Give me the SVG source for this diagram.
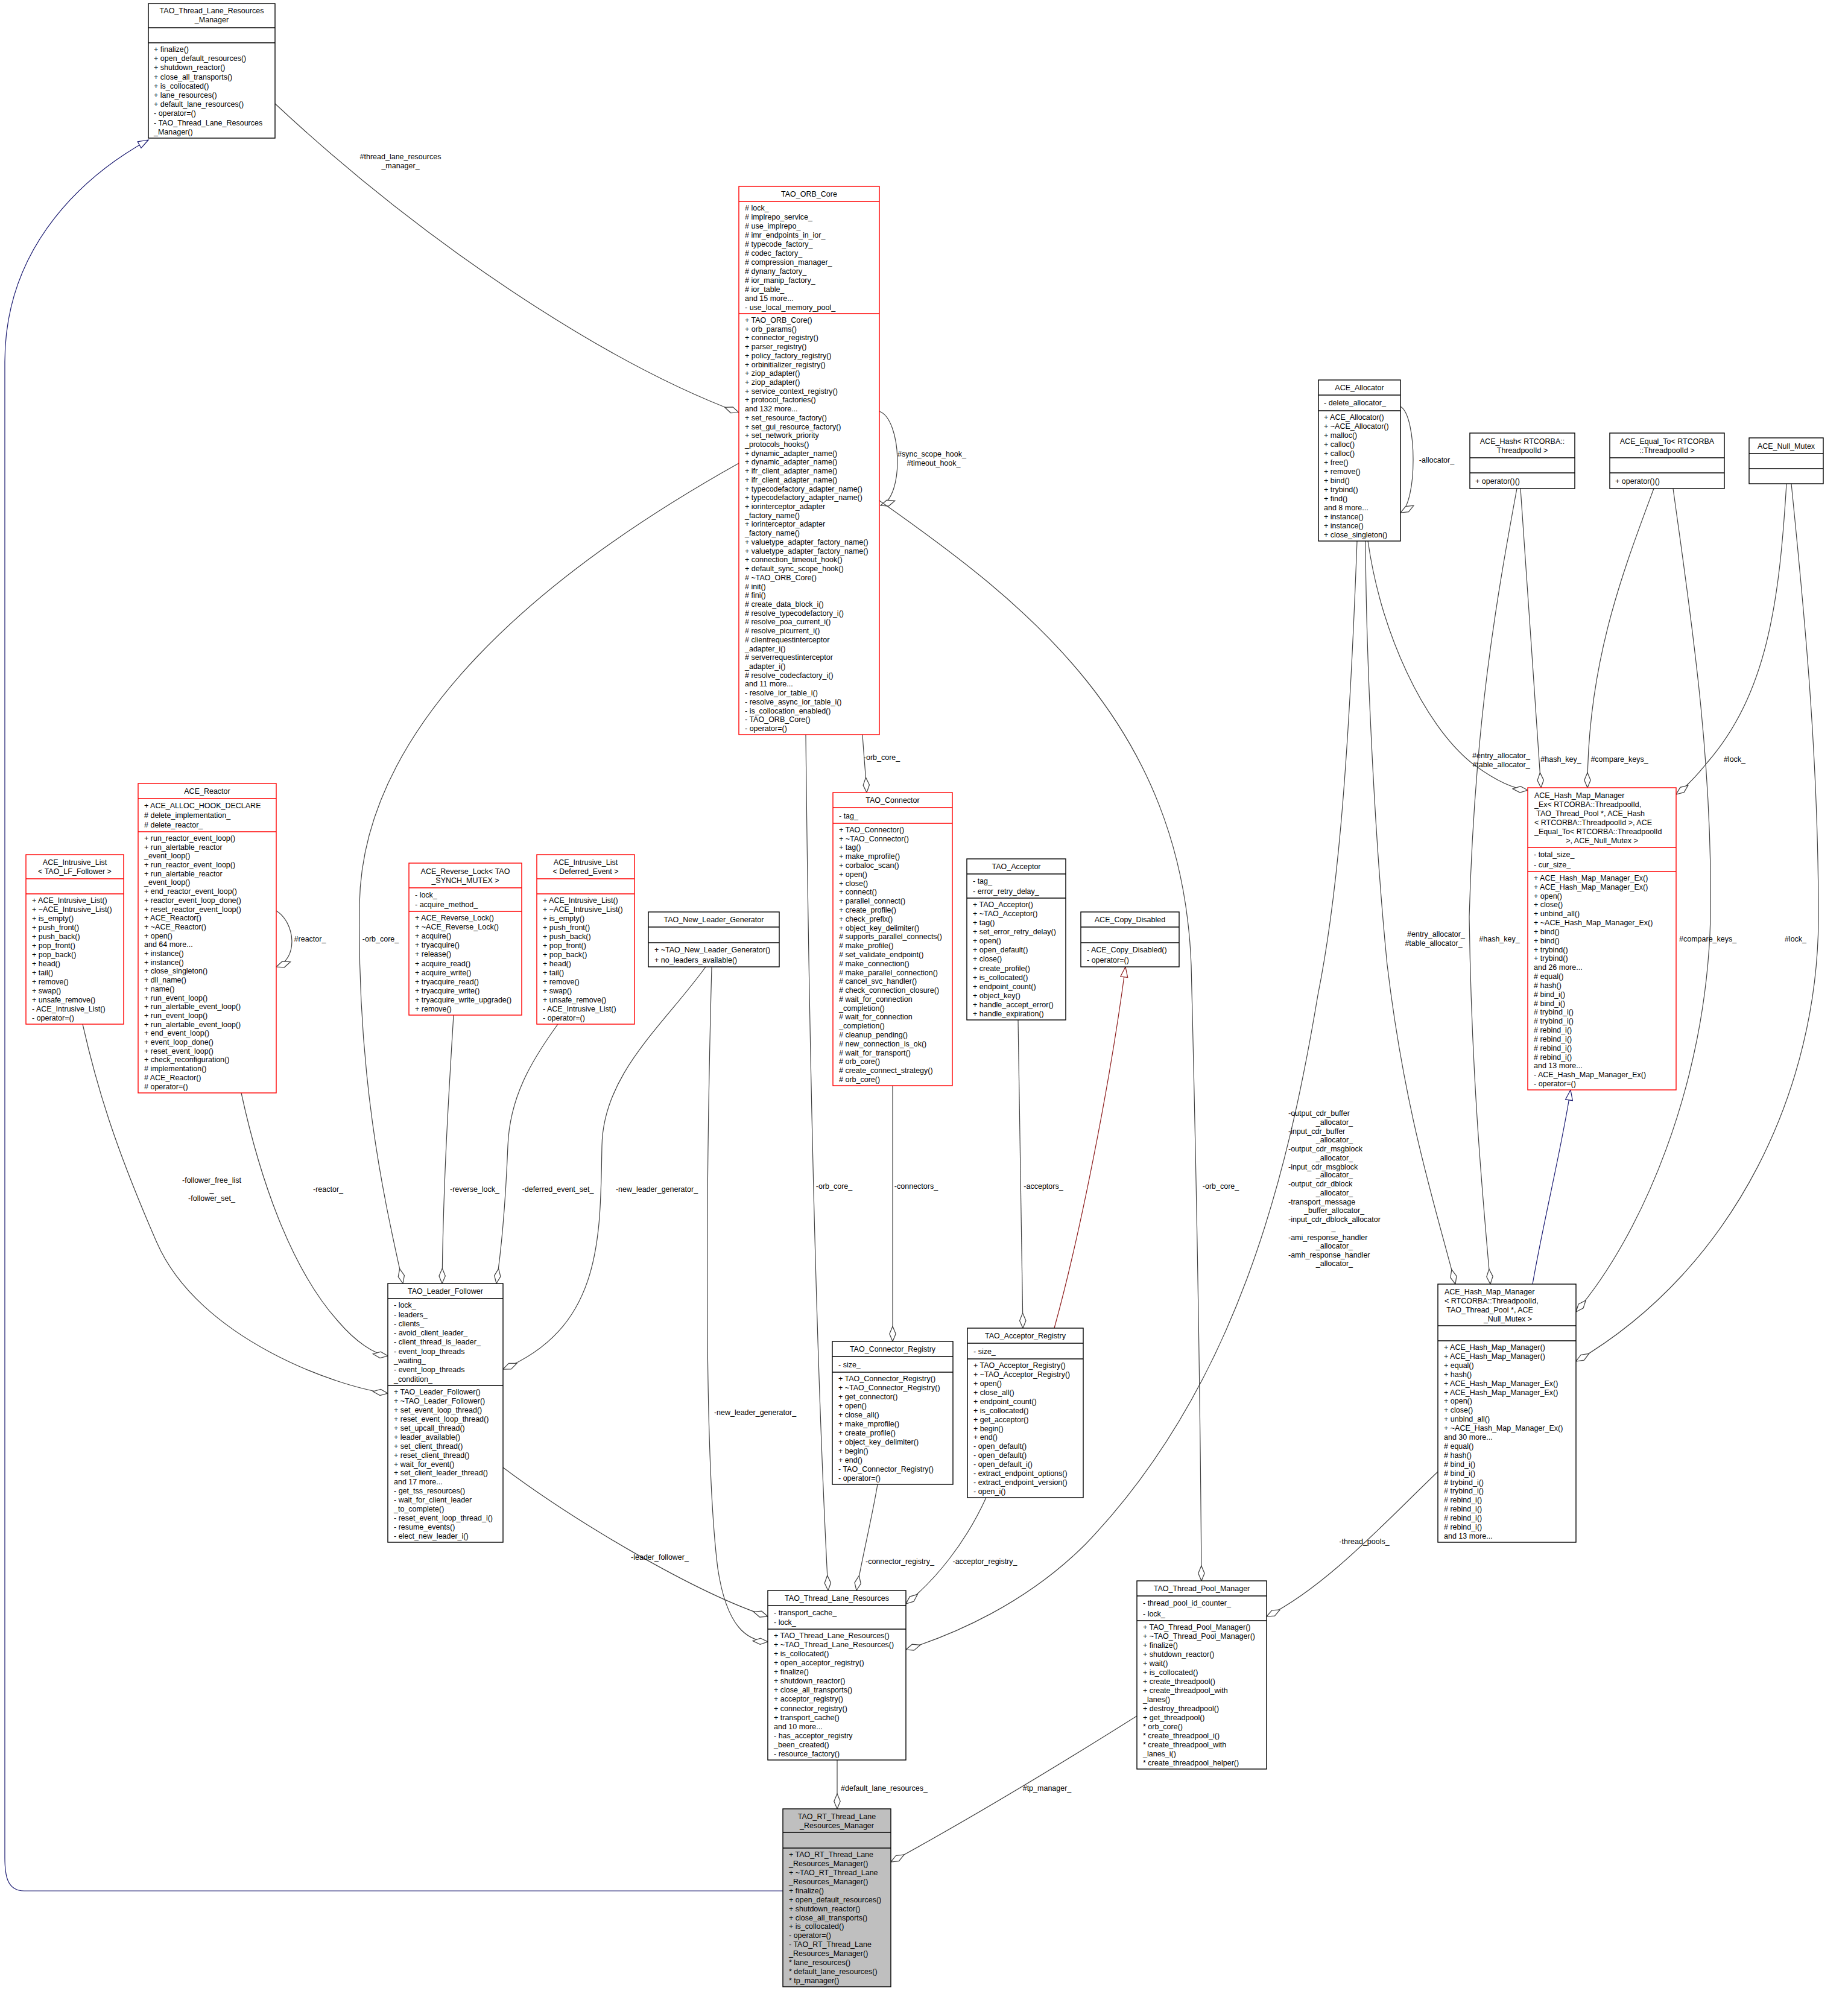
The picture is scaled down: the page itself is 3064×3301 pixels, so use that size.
<svg xmlns="http://www.w3.org/2000/svg" width="3064" height="3301" viewBox="0 0 3064 3301">
<style>
text{font-family:"Liberation Sans",Arial,sans-serif;font-size:12.5px;fill:#000}
.c{text-anchor:middle}
.e{text-anchor:end}
.b{fill:#fff;stroke:#000;stroke-width:1.4}
.r{fill:#fff;stroke:#ff0000;stroke-width:1.4}
.g{fill:#bfbfbf;stroke:#000;stroke-width:1.4}
.l{stroke:#000;stroke-width:1.4}
.lr{stroke:#ff0000;stroke-width:1.4}
.ed{fill:none;stroke:#404040;stroke-width:1.2}
.inh{fill:none;stroke:#191970;stroke-width:1.2}
.inr{fill:none;stroke:#8b1a1a;stroke-width:1.2}
</style>
<defs>
<marker id="dia" markerUnits="userSpaceOnUse" markerWidth="27" markerHeight="13" viewBox="-1 -6 26 12" refX="24" refY="0" orient="auto"><path d="M0,0 L12,-5 L24,0 L12,5 z" fill="#fff" stroke="#404040" stroke-width="1.2"/></marker>
<marker id="tri" markerUnits="userSpaceOnUse" markerWidth="20" markerHeight="14" viewBox="-1 -7 20 14" refX="17" refY="0" orient="auto"><path d="M0,-6 L17,0 L0,6 z" fill="#fff" stroke="#191970" stroke-width="1.2"/></marker>
<marker id="trir" markerUnits="userSpaceOnUse" markerWidth="20" markerHeight="14" viewBox="-1 -7 20 14" refX="17" refY="0" orient="auto"><path d="M0,-6 L17,0 L0,6 z" fill="#fff" stroke="#8b1a1a" stroke-width="1.2"/></marker>
</defs>

<g id="edges">
<path class="inh" marker-end="url(#tri)" d="M1298,3135 L40,3135 C12,3135 8,3110 8,3080 L8,600 C8,400 150,285 246,232"/>
<path class="ed" marker-end="url(#dia)" d="M454,170 C700,400 1000,600 1225,684"/>
<text class="c" x="664" y="264">#thread_lane_resources</text><text class="c" x="664" y="279">_manager_</text>
<path class="ed" marker-end="url(#dia)" d="M1458,682 C1495,695 1500,825 1460,838"/>
<text class="c" x="1545" y="757">#sync_scope_hook_</text><text class="c" x="1548" y="772">#timeout_hook_</text>
<path class="ed" marker-end="url(#dia)" d="M1225,768 C900,950 600,1200 596,1500 C592,1800 640,2000 668,2128"/>
<text class="c" x="631" y="1561">-orb_core_</text>
<path class="ed" marker-end="url(#dia)" d="M458,1510 C490,1530 495,1590 458,1603"/>
<text class="c" x="514" y="1561">#reactor_</text>
<path class="ed" marker-end="url(#dia)" d="M137,1698 C160,1800 190,1900 260,2060 C330,2220 560,2300 643,2310"/>
<text class="c" x="351" y="1961">-follower_free_list</text><text class="c" x="351" y="1976">_</text><text class="c" x="351" y="1991">-follower_set_</text>
<path class="ed" marker-end="url(#dia)" d="M400,1812 C430,1950 480,2100 560,2190 C590,2225 620,2245 643,2248"/>
<text class="c" x="544" y="1976">-reactor_</text>
<path class="ed" marker-end="url(#dia)" d="M752,1683 C745,1800 735,1950 733,2128"/>
<text class="c" x="787" y="1976">-reverse_lock_</text>
<path class="ed" marker-end="url(#dia)" d="M925,1698 C880,1760 845,1820 842,1900 C838,2000 830,2080 823,2128"/>
<text class="c" x="925" y="1976">-deferred_event_set_</text>
<path class="ed" marker-end="url(#dia)" d="M1170,1603 C1100,1700 1000,1780 998,1900 C995,2050 1000,2200 834,2270"/>
<text class="c" x="1089" y="1976">-new_leader_generator_</text>
<path class="ed" marker-end="url(#dia)" d="M1336,1218 C1340,1600 1350,2200 1373,2637"/>
<text class="c" x="1383" y="1971">-orb_core_</text>
<path class="ed" marker-end="url(#dia)" d="M1180,1603 C1172,1900 1165,2400 1190,2600 C1205,2700 1240,2720 1273,2722"/>
<text class="c" x="1252" y="2346">-new_leader_generator_</text>
<path class="ed" marker-end="url(#dia)" d="M834,2433 C950,2520 1150,2640 1273,2680"/>
<text class="c" x="1094" y="2586">-leader_follower_</text>
<path class="ed" marker-end="url(#dia)" d="M1430,1218 C1432,1250 1435,1280 1437,1314"/>
<text class="c" x="1462" y="1260">-orb_core_</text>
<path class="ed" marker-end="url(#dia)" d="M1480,1800 L1480,2224"/>
<text class="c" x="1519" y="1971">-connectors_</text>
<path class="ed" marker-end="url(#dia)" d="M1688,1691 C1690,1900 1694,2100 1696,2202"/>
<text class="c" x="1730" y="1971">-acceptors_</text>
<path class="inr" marker-end="url(#trir)" d="M1748,2202 C1790,2050 1840,1800 1866,1603"/>
<path class="ed" marker-end="url(#dia)" d="M1455,2461 C1445,2520 1430,2580 1420,2637"/>
<text class="c" x="1492" y="2593">-connector_registry_</text>
<path class="ed" marker-end="url(#dia)" d="M1635,2483 C1600,2560 1550,2620 1502,2659"/>
<text class="c" x="1633" y="2593">-acceptor_registry_</text>
<path class="ed" marker-end="url(#dia)" d="M2250,897 C2235,1300 2215,1500 2185,1650 C2135,1950 2050,2300 1800,2560 C1700,2660 1580,2710 1502,2735"/>
<text x="2136" y="1850">-output_cdr_buffer</text><text class="e" x="2243" y="1865">_allocator_</text>
<text x="2136" y="1880">-input_cdr_buffer</text><text class="e" x="2243" y="1894">_allocator_</text>
<text x="2136" y="1909">-output_cdr_msgblock</text><text class="e" x="2243" y="1924">_allocator_</text>
<text x="2136" y="1939">-input_cdr_msgblock</text><text class="e" x="2243" y="1952">_allocator_</text>
<text x="2136" y="1967">-output_cdr_dblock</text><text class="e" x="2243" y="1982">_allocator_</text>
<text x="2136" y="1997">-transport_message</text><text class="e" x="2262" y="2011">_buffer_allocator_</text>
<text x="2136" y="2026">-input_cdr_dblock_allocator</text><text class="c" x="2211" y="2040">_</text>
<text x="2136" y="2056">-ami_response_handler</text><text class="e" x="2243" y="2070">_allocator_</text>
<text x="2136" y="2085">-amh_response_handler</text><text class="e" x="2243" y="2099">_allocator_</text>
<path class="ed" marker-end="url(#dia)" d="M2322,674 C2350,690 2350,835 2322,850"/>
<text class="c" x="2382" y="767">-allocator_</text>
<path class="ed" marker-end="url(#dia)" d="M2268,897 C2290,1050 2360,1200 2440,1265 C2480,1295 2510,1308 2533,1310"/>
<text class="c" x="2489" y="1257">#entry_allocator_</text><text class="c" x="2489" y="1272">#table_allocator_</text>
<path class="ed" marker-end="url(#dia)" d="M2521,810 C2530,950 2545,1150 2555,1306"/>
<text class="c" x="2588" y="1263">#hash_key_</text>
<path class="ed" marker-end="url(#dia)" d="M2742,810 C2690,950 2632,1100 2632,1306"/>
<text class="c" x="2685" y="1263">#compare_keys_</text>
<path class="ed" marker-end="url(#dia)" d="M2962,802 C2950,1000 2930,1150 2830,1265 C2810,1290 2795,1305 2779,1317"/>
<text class="c" x="2876" y="1263">#lock_</text>
<path class="ed" marker-end="url(#dia)" d="M2264,897 C2265,1100 2280,1400 2300,1600 C2330,1850 2380,2000 2413,2129"/>
<text class="c" x="2381" y="1553">#entry_allocator_</text><text class="c" x="2377" y="1568">#table_allocator_</text>
<path class="ed" marker-end="url(#dia)" d="M2515,810 C2480,1000 2445,1200 2436,1520 C2440,1800 2460,2000 2471,2129"/>
<text class="c" x="2486" y="1561">#hash_key_</text>
<path class="ed" marker-end="url(#dia)" d="M2774,810 C2800,1000 2840,1250 2836,1520 C2830,1800 2720,2050 2613,2175"/>
<text x="2784" y="1561">#compare_keys_</text>
<path class="ed" marker-end="url(#dia)" d="M2970,802 C2990,1000 3015,1250 3015,1520 C3015,1800 2880,2100 2613,2257"/>
<text class="c" x="2977" y="1561">#lock_</text>
<path class="inh" marker-end="url(#tri)" d="M2541,2129 C2560,2020 2590,1900 2604,1807"/>
<path class="ed" marker-end="url(#dia)" d="M2384,2440 C2300,2520 2200,2630 2100,2680"/>
<text class="c" x="2262" y="2560">-thread_pools_</text>
<path class="ed" marker-end="url(#dia)" d="M1458,830 C1700,1000 1960,1200 1975,1600 C1985,2000 1990,2300 1992,2621"/>
<text class="c" x="2024" y="1971">-orb_core_</text>
<path class="ed" marker-end="url(#dia)" d="M1885,2845 C1750,2930 1600,3020 1477,3087"/>
<text class="c" x="1736" y="2969">#tp_manager_</text>
<path class="ed" marker-end="url(#dia)" d="M1388,2918 L1388,2999"/>
<text class="c" x="1466" y="2969">#default_lane_resources_</text>
</g>

<g id="TAO_Thread_Lane_Resources_Manager">
<rect class="b" x="246" y="6" width="210" height="223"/><line class="l" x1="246" y1="46" x2="456" y2="46"/><line class="l" x1="246" y1="71" x2="456" y2="71"/>
<text class="c" x="351" y="22">TAO_Thread_Lane_Resources<tspan x="351" dy="15">_Manager</tspan></text>
<text x="255" y="86">+ finalize()<tspan x="255" dy="15.2">+ open_default_resources()</tspan><tspan x="255" dy="15.2">+ shutdown_reactor()</tspan><tspan x="255" dy="15.2">+ close_all_transports()</tspan><tspan x="255" dy="15.2">+ is_collocated()</tspan><tspan x="255" dy="15.2">+ lane_resources()</tspan><tspan x="255" dy="15.2">+ default_lane_resources()</tspan><tspan x="255" dy="15.2">- operator=()</tspan><tspan x="255" dy="15.2">- TAO_Thread_Lane_Resources</tspan><tspan x="255" dy="15.2">_Manager()</tspan></text>
</g>

<g id="TAO_ORB_Core">
<rect class="r" x="1225" y="309" width="233" height="909"/><line class="lr" x1="1225" y1="334" x2="1458" y2="334"/><line class="lr" x1="1225" y1="520" x2="1458" y2="520"/>
<text class="c" x="1341.5" y="326">TAO_ORB_Core</text>
<text x="1235" y="349"># lock_<tspan x="1235" dy="15"># implrepo_service_</tspan><tspan x="1235" dy="15"># use_implrepo_</tspan><tspan x="1235" dy="15"># imr_endpoints_in_ior_</tspan><tspan x="1235" dy="15"># typecode_factory_</tspan><tspan x="1235" dy="15"># codec_factory_</tspan><tspan x="1235" dy="15"># compression_manager_</tspan><tspan x="1235" dy="15"># dynany_factory_</tspan><tspan x="1235" dy="15"># ior_manip_factory_</tspan><tspan x="1235" dy="15"># ior_table_</tspan><tspan x="1235" dy="15">and 15 more...</tspan><tspan x="1235" dy="15">- use_local_memory_pool_</tspan></text>
<text x="1235" y="534.9">+ TAO_ORB_Core()<tspan x="1235" dy="14.72">+ orb_params()</tspan><tspan x="1235" dy="14.72">+ connector_registry()</tspan><tspan x="1235" dy="14.72">+ parser_registry()</tspan><tspan x="1235" dy="14.72">+ policy_factory_registry()</tspan><tspan x="1235" dy="14.72">+ orbinitializer_registry()</tspan><tspan x="1235" dy="14.72">+ ziop_adapter()</tspan><tspan x="1235" dy="14.72">+ ziop_adapter()</tspan><tspan x="1235" dy="14.72">+ service_context_registry()</tspan><tspan x="1235" dy="14.72">+ protocol_factories()</tspan><tspan x="1235" dy="14.72">and 132 more...</tspan><tspan x="1235" dy="14.72">+ set_resource_factory()</tspan><tspan x="1235" dy="14.72">+ set_gui_resource_factory()</tspan><tspan x="1235" dy="14.72">+ set_network_priority</tspan><tspan x="1235" dy="14.72">_protocols_hooks()</tspan><tspan x="1235" dy="14.72">+ dynamic_adapter_name()</tspan><tspan x="1235" dy="14.72">+ dynamic_adapter_name()</tspan><tspan x="1235" dy="14.72">+ ifr_client_adapter_name()</tspan><tspan x="1235" dy="14.72">+ ifr_client_adapter_name()</tspan><tspan x="1235" dy="14.72">+ typecodefactory_adapter_name()</tspan><tspan x="1235" dy="14.72">+ typecodefactory_adapter_name()</tspan><tspan x="1235" dy="14.72">+ iorinterceptor_adapter</tspan><tspan x="1235" dy="14.72">_factory_name()</tspan><tspan x="1235" dy="14.72">+ iorinterceptor_adapter</tspan><tspan x="1235" dy="14.72">_factory_name()</tspan><tspan x="1235" dy="14.72">+ valuetype_adapter_factory_name()</tspan><tspan x="1235" dy="14.72">+ valuetype_adapter_factory_name()</tspan><tspan x="1235" dy="14.72">+ connection_timeout_hook()</tspan><tspan x="1235" dy="14.72">+ default_sync_scope_hook()</tspan><tspan x="1235" dy="14.72"># ~TAO_ORB_Core()</tspan><tspan x="1235" dy="14.72"># init()</tspan><tspan x="1235" dy="14.72"># fini()</tspan><tspan x="1235" dy="14.72"># create_data_block_i()</tspan><tspan x="1235" dy="14.72"># resolve_typecodefactory_i()</tspan><tspan x="1235" dy="14.72"># resolve_poa_current_i()</tspan><tspan x="1235" dy="14.72"># resolve_picurrent_i()</tspan><tspan x="1235" dy="14.72"># clientrequestinterceptor</tspan><tspan x="1235" dy="14.72">_adapter_i()</tspan><tspan x="1235" dy="14.72"># serverrequestinterceptor</tspan><tspan x="1235" dy="14.72">_adapter_i()</tspan><tspan x="1235" dy="14.72"># resolve_codecfactory_i()</tspan><tspan x="1235" dy="14.72">and 11 more...</tspan><tspan x="1235" dy="14.72">- resolve_ior_table_i()</tspan><tspan x="1235" dy="14.72">- resolve_async_ior_table_i()</tspan><tspan x="1235" dy="14.72">- is_collocation_enabled()</tspan><tspan x="1235" dy="14.72">- TAO_ORB_Core()</tspan><tspan x="1235" dy="14.72">- operator=()</tspan></text>
</g>

<g id="ACE_Allocator">
<rect class="b" x="2186" y="630" width="136" height="267"/><line class="l" x1="2186" y1="655" x2="2322" y2="655"/><line class="l" x1="2186" y1="681" x2="2322" y2="681"/>
<text class="c" x="2254" y="647">ACE_Allocator</text>
<text x="2195" y="672">- delete_allocator_</text>
<text x="2195" y="696">+ ACE_Allocator()<tspan x="2195" dy="15">+ ~ACE_Allocator()</tspan><tspan x="2195" dy="15">+ malloc()</tspan><tspan x="2195" dy="15">+ calloc()</tspan><tspan x="2195" dy="15">+ calloc()</tspan><tspan x="2195" dy="15">+ free()</tspan><tspan x="2195" dy="15">+ remove()</tspan><tspan x="2195" dy="15">+ bind()</tspan><tspan x="2195" dy="15">+ trybind()</tspan><tspan x="2195" dy="15">+ find()</tspan><tspan x="2195" dy="15">and 8 more...</tspan><tspan x="2195" dy="15">+ instance()</tspan><tspan x="2195" dy="15">+ instance()</tspan><tspan x="2195" dy="15">+ close_singleton()</tspan></text>
</g>

<g id="ACE_Hash">
<rect class="b" x="2437" y="718" width="174" height="92"/><line class="l" x1="2437" y1="759" x2="2611" y2="759"/><line class="l" x1="2437" y1="784" x2="2611" y2="784"/>
<text class="c" x="2524" y="735.5">ACE_Hash&lt; RTCORBA::<tspan x="2524" dy="15">ThreadpoolId &gt;</tspan></text>
<text x="2446" y="801.5">+ operator()()</text>
</g>

<g id="ACE_Equal_To">
<rect class="b" x="2669" y="718" width="190" height="92"/><line class="l" x1="2669" y1="759" x2="2859" y2="759"/><line class="l" x1="2669" y1="784" x2="2859" y2="784"/>
<text class="c" x="2764" y="735.5">ACE_Equal_To&lt; RTCORBA<tspan x="2764" dy="15">::ThreadpoolId &gt;</tspan></text>
<text x="2678" y="801.5">+ operator()()</text>
</g>

<g id="ACE_Null_Mutex">
<rect class="b" x="2900" y="726" width="123" height="76"/><line class="l" x1="2900" y1="752" x2="3023" y2="752"/><line class="l" x1="2900" y1="777" x2="3023" y2="777"/>
<text class="c" x="2961.5" y="743.5">ACE_Null_Mutex</text>
</g>

<g id="ACE_Hash_Map_Manager_Ex">
<rect class="r" x="2533" y="1306" width="246" height="501"/><line class="lr" x1="2533" y1="1405" x2="2779" y2="1405"/><line class="lr" x1="2533" y1="1445" x2="2779" y2="1445"/>
<text x="2544" y="1322.5">ACE_Hash_Map_Manager<tspan x="2544" dy="15">_Ex&lt; RTCORBA::ThreadpoolId,</tspan><tspan x="2544" dy="15"> TAO_Thread_Pool *, ACE_Hash</tspan><tspan x="2544" dy="15">&lt; RTCORBA::ThreadpoolId &gt;, ACE</tspan><tspan x="2544" dy="15">_Equal_To&lt; RTCORBA::ThreadpoolId</tspan></text>
<text class="c" x="2656" y="1397.5">&gt;, ACE_Null_Mutex &gt;</text>
<text x="2543" y="1421">- total_size_<tspan x="2543" dy="17">- cur_size_</tspan></text>
<text x="2543" y="1459.9">+ ACE_Hash_Map_Manager_Ex()<tspan x="2543" dy="14.83">+ ACE_Hash_Map_Manager_Ex()</tspan><tspan x="2543" dy="14.83">+ open()</tspan><tspan x="2543" dy="14.83">+ close()</tspan><tspan x="2543" dy="14.83">+ unbind_all()</tspan><tspan x="2543" dy="14.83">+ ~ACE_Hash_Map_Manager_Ex()</tspan><tspan x="2543" dy="14.83">+ bind()</tspan><tspan x="2543" dy="14.83">+ bind()</tspan><tspan x="2543" dy="14.83">+ trybind()</tspan><tspan x="2543" dy="14.83">+ trybind()</tspan><tspan x="2543" dy="14.83">and 26 more...</tspan><tspan x="2543" dy="14.83"># equal()</tspan><tspan x="2543" dy="14.83"># hash()</tspan><tspan x="2543" dy="14.83"># bind_i()</tspan><tspan x="2543" dy="14.83"># bind_i()</tspan><tspan x="2543" dy="14.83"># trybind_i()</tspan><tspan x="2543" dy="14.83"># trybind_i()</tspan><tspan x="2543" dy="14.83"># rebind_i()</tspan><tspan x="2543" dy="14.83"># rebind_i()</tspan><tspan x="2543" dy="14.83"># rebind_i()</tspan><tspan x="2543" dy="14.83"># rebind_i()</tspan><tspan x="2543" dy="14.83">and 13 more...</tspan><tspan x="2543" dy="14.83">- ACE_Hash_Map_Manager_Ex()</tspan><tspan x="2543" dy="14.83">- operator=()</tspan></text>
</g>

<g id="ACE_Hash_Map_Manager">
<rect class="b" x="2384" y="2129" width="229" height="428"/><line class="l" x1="2384" y1="2198" x2="2613" y2="2198"/><line class="l" x1="2384" y1="2223" x2="2613" y2="2223"/>
<text x="2395" y="2145.5">ACE_Hash_Map_Manager<tspan x="2395" dy="15">&lt; RTCORBA::ThreadpoolId,</tspan><tspan x="2395" dy="15"> TAO_Thread_Pool *, ACE</tspan></text>
<text class="c" x="2500" y="2190.5">_Null_Mutex &gt;</text>
<text x="2394" y="2238">+ ACE_Hash_Map_Manager()<tspan x="2394" dy="14.9">+ ACE_Hash_Map_Manager()</tspan><tspan x="2394" dy="14.9">+ equal()</tspan><tspan x="2394" dy="14.9">+ hash()</tspan><tspan x="2394" dy="14.9">+ ACE_Hash_Map_Manager_Ex()</tspan><tspan x="2394" dy="14.9">+ ACE_Hash_Map_Manager_Ex()</tspan><tspan x="2394" dy="14.9">+ open()</tspan><tspan x="2394" dy="14.9">+ close()</tspan><tspan x="2394" dy="14.9">+ unbind_all()</tspan><tspan x="2394" dy="14.9">+ ~ACE_Hash_Map_Manager_Ex()</tspan><tspan x="2394" dy="14.9">and 30 more...</tspan><tspan x="2394" dy="14.9"># equal()</tspan><tspan x="2394" dy="14.9"># hash()</tspan><tspan x="2394" dy="14.9"># bind_i()</tspan><tspan x="2394" dy="14.9"># bind_i()</tspan><tspan x="2394" dy="14.9"># trybind_i()</tspan><tspan x="2394" dy="14.9"># trybind_i()</tspan><tspan x="2394" dy="14.9"># rebind_i()</tspan><tspan x="2394" dy="14.9"># rebind_i()</tspan><tspan x="2394" dy="14.9"># rebind_i()</tspan><tspan x="2394" dy="14.9"># rebind_i()</tspan><tspan x="2394" dy="14.9">and 13 more...</tspan></text>
</g>

<g id="TAO_Connector">
<rect class="r" x="1381" y="1314" width="198" height="486"/><line class="lr" x1="1381" y1="1339" x2="1579" y2="1339"/><line class="lr" x1="1381" y1="1365" x2="1579" y2="1365"/>
<text class="c" x="1480" y="1331">TAO_Connector</text>
<text x="1391" y="1356.5">- tag_</text>
<text x="1391" y="1379.9">+ TAO_Connector()<tspan x="1391" dy="14.79">+ ~TAO_Connector()</tspan><tspan x="1391" dy="14.79">+ tag()</tspan><tspan x="1391" dy="14.79">+ make_mprofile()</tspan><tspan x="1391" dy="14.79">+ corbaloc_scan()</tspan><tspan x="1391" dy="14.79">+ open()</tspan><tspan x="1391" dy="14.79">+ close()</tspan><tspan x="1391" dy="14.79">+ connect()</tspan><tspan x="1391" dy="14.79">+ parallel_connect()</tspan><tspan x="1391" dy="14.79">+ create_profile()</tspan><tspan x="1391" dy="14.79">+ check_prefix()</tspan><tspan x="1391" dy="14.79">+ object_key_delimiter()</tspan><tspan x="1391" dy="14.79"># supports_parallel_connects()</tspan><tspan x="1391" dy="14.79"># make_profile()</tspan><tspan x="1391" dy="14.79"># set_validate_endpoint()</tspan><tspan x="1391" dy="14.79"># make_connection()</tspan><tspan x="1391" dy="14.79"># make_parallel_connection()</tspan><tspan x="1391" dy="14.79"># cancel_svc_handler()</tspan><tspan x="1391" dy="14.79"># check_connection_closure()</tspan><tspan x="1391" dy="14.79"># wait_for_connection</tspan><tspan x="1391" dy="14.79">_completion()</tspan><tspan x="1391" dy="14.79"># wait_for_connection</tspan><tspan x="1391" dy="14.79">_completion()</tspan><tspan x="1391" dy="14.79"># cleanup_pending()</tspan><tspan x="1391" dy="14.79"># new_connection_is_ok()</tspan><tspan x="1391" dy="14.79"># wait_for_transport()</tspan><tspan x="1391" dy="14.79"># orb_core()</tspan><tspan x="1391" dy="14.79"># create_connect_strategy()</tspan><tspan x="1391" dy="14.79"># orb_core()</tspan></text>
</g>

<g id="TAO_Acceptor">
<rect class="b" x="1603" y="1424" width="164" height="267"/><line class="l" x1="1603" y1="1449" x2="1767" y2="1449"/><line class="l" x1="1603" y1="1489" x2="1767" y2="1489"/>
<text class="c" x="1685" y="1441">TAO_Acceptor</text>
<text x="1613" y="1465">- tag_<tspan x="1613" dy="17">- error_retry_delay_</tspan></text>
<text x="1613" y="1504">+ TAO_Acceptor()<tspan x="1613" dy="15.08">+ ~TAO_Acceptor()</tspan><tspan x="1613" dy="15.08">+ tag()</tspan><tspan x="1613" dy="15.08">+ set_error_retry_delay()</tspan><tspan x="1613" dy="15.08">+ open()</tspan><tspan x="1613" dy="15.08">+ open_default()</tspan><tspan x="1613" dy="15.08">+ close()</tspan><tspan x="1613" dy="15.08">+ create_profile()</tspan><tspan x="1613" dy="15.08">+ is_collocated()</tspan><tspan x="1613" dy="15.08">+ endpoint_count()</tspan><tspan x="1613" dy="15.08">+ object_key()</tspan><tspan x="1613" dy="15.08">+ handle_accept_error()</tspan><tspan x="1613" dy="15.08">+ handle_expiration()</tspan></text>
</g>

<g id="ACE_Copy_Disabled">
<rect class="b" x="1792" y="1512" width="163" height="91"/><line class="l" x1="1792" y1="1537" x2="1955" y2="1537"/><line class="l" x1="1792" y1="1563" x2="1955" y2="1563"/>
<text class="c" x="1873.5" y="1529">ACE_Copy_Disabled</text>
<text x="1802" y="1579">- ACE_Copy_Disabled()<tspan x="1802" dy="17">- operator=()</tspan></text>
</g>

<g id="ACE_Reactor">
<rect class="r" x="229" y="1299" width="229" height="513"/><line class="lr" x1="229" y1="1324" x2="458" y2="1324"/><line class="lr" x1="229" y1="1379" x2="458" y2="1379"/>
<text class="c" x="343.5" y="1316">ACE_Reactor</text>
<text x="239" y="1339.7">+ ACE_ALLOC_HOOK_DECLARE<tspan x="239" dy="16.3"># delete_implementation_</tspan><tspan x="239" dy="16.3"># delete_reactor_</tspan></text>
<text x="239" y="1393.9">+ run_reactor_event_loop()<tspan x="239" dy="14.7">+ run_alertable_reactor</tspan><tspan x="239" dy="14.7">_event_loop()</tspan><tspan x="239" dy="14.7">+ run_reactor_event_loop()</tspan><tspan x="239" dy="14.7">+ run_alertable_reactor</tspan><tspan x="239" dy="14.7">_event_loop()</tspan><tspan x="239" dy="14.7">+ end_reactor_event_loop()</tspan><tspan x="239" dy="14.7">+ reactor_event_loop_done()</tspan><tspan x="239" dy="14.7">+ reset_reactor_event_loop()</tspan><tspan x="239" dy="14.7">+ ACE_Reactor()</tspan><tspan x="239" dy="14.7">+ ~ACE_Reactor()</tspan><tspan x="239" dy="14.7">+ open()</tspan><tspan x="239" dy="14.7">and 64 more...</tspan><tspan x="239" dy="14.7">+ instance()</tspan><tspan x="239" dy="14.7">+ instance()</tspan><tspan x="239" dy="14.7">+ close_singleton()</tspan><tspan x="239" dy="14.7">+ dll_name()</tspan><tspan x="239" dy="14.7">+ name()</tspan><tspan x="239" dy="14.7">+ run_event_loop()</tspan><tspan x="239" dy="14.7">+ run_alertable_event_loop()</tspan><tspan x="239" dy="14.7">+ run_event_loop()</tspan><tspan x="239" dy="14.7">+ run_alertable_event_loop()</tspan><tspan x="239" dy="14.7">+ end_event_loop()</tspan><tspan x="239" dy="14.7">+ event_loop_done()</tspan><tspan x="239" dy="14.7">+ reset_event_loop()</tspan><tspan x="239" dy="14.7">+ check_reconfiguration()</tspan><tspan x="239" dy="14.7"># implementation()</tspan><tspan x="239" dy="14.7"># ACE_Reactor()</tspan><tspan x="239" dy="14.7"># operator=()</tspan></text>
</g>

<g id="ACE_Intrusive_List_LF_Follower">
<rect class="r" x="43" y="1417" width="162" height="281"/><line class="lr" x1="43" y1="1457" x2="205" y2="1457"/><line class="lr" x1="43" y1="1482" x2="205" y2="1482"/>
<text class="c" x="124" y="1434">ACE_Intrusive_List<tspan x="124" dy="15">&lt; TAO_LF_Follower &gt;</tspan></text>
<text x="53" y="1497">+ ACE_Intrusive_List()<tspan x="53" dy="15">+ ~ACE_Intrusive_List()</tspan><tspan x="53" dy="15">+ is_empty()</tspan><tspan x="53" dy="15">+ push_front()</tspan><tspan x="53" dy="15">+ push_back()</tspan><tspan x="53" dy="15">+ pop_front()</tspan><tspan x="53" dy="15">+ pop_back()</tspan><tspan x="53" dy="15">+ head()</tspan><tspan x="53" dy="15">+ tail()</tspan><tspan x="53" dy="15">+ remove()</tspan><tspan x="53" dy="15">+ swap()</tspan><tspan x="53" dy="15">+ unsafe_remove()</tspan><tspan x="53" dy="15">- ACE_Intrusive_List()</tspan><tspan x="53" dy="15">- operator=()</tspan></text>
</g>

<g id="ACE_Reverse_Lock">
<rect class="r" x="678" y="1431" width="187" height="252"/><line class="lr" x1="678" y1="1472" x2="865" y2="1472"/><line class="lr" x1="678" y1="1511" x2="865" y2="1511"/>
<text class="c" x="771.5" y="1448.5">ACE_Reverse_Lock&lt; TAO<tspan x="771.5" dy="15">_SYNCH_MUTEX &gt;</tspan></text>
<text x="688" y="1487.7">- lock_<tspan x="688" dy="16.5">- acquire_method_</tspan></text>
<text x="688" y="1526">+ ACE_Reverse_Lock()<tspan x="688" dy="15.1">+ ~ACE_Reverse_Lock()</tspan><tspan x="688" dy="15.1">+ acquire()</tspan><tspan x="688" dy="15.1">+ tryacquire()</tspan><tspan x="688" dy="15.1">+ release()</tspan><tspan x="688" dy="15.1">+ acquire_read()</tspan><tspan x="688" dy="15.1">+ acquire_write()</tspan><tspan x="688" dy="15.1">+ tryacquire_read()</tspan><tspan x="688" dy="15.1">+ tryacquire_write()</tspan><tspan x="688" dy="15.1">+ tryacquire_write_upgrade()</tspan><tspan x="688" dy="15.1">+ remove()</tspan></text>
</g>

<g id="ACE_Intrusive_List_Deferred_Event">
<rect class="r" x="890" y="1417" width="162" height="281"/><line class="lr" x1="890" y1="1457" x2="1052" y2="1457"/><line class="lr" x1="890" y1="1482" x2="1052" y2="1482"/>
<text class="c" x="971" y="1434">ACE_Intrusive_List<tspan x="971" dy="15">&lt; Deferred_Event &gt;</tspan></text>
<text x="900" y="1497">+ ACE_Intrusive_List()<tspan x="900" dy="15">+ ~ACE_Intrusive_List()</tspan><tspan x="900" dy="15">+ is_empty()</tspan><tspan x="900" dy="15">+ push_front()</tspan><tspan x="900" dy="15">+ push_back()</tspan><tspan x="900" dy="15">+ pop_front()</tspan><tspan x="900" dy="15">+ pop_back()</tspan><tspan x="900" dy="15">+ head()</tspan><tspan x="900" dy="15">+ tail()</tspan><tspan x="900" dy="15">+ remove()</tspan><tspan x="900" dy="15">+ swap()</tspan><tspan x="900" dy="15">+ unsafe_remove()</tspan><tspan x="900" dy="15">- ACE_Intrusive_List()</tspan><tspan x="900" dy="15">- operator=()</tspan></text>
</g>

<g id="TAO_New_Leader_Generator">
<rect class="b" x="1075" y="1512" width="217" height="91"/><line class="l" x1="1075" y1="1537" x2="1292" y2="1537"/><line class="l" x1="1075" y1="1563" x2="1292" y2="1563"/>
<text class="c" x="1183.5" y="1529">TAO_New_Leader_Generator</text>
<text x="1085" y="1579">+ ~TAO_New_Leader_Generator()<tspan x="1085" dy="17">+ no_leaders_available()</tspan></text>
</g>

<g id="TAO_Leader_Follower">
<rect class="b" x="643" y="2128" width="191" height="429"/><line class="l" x1="643" y1="2153" x2="834" y2="2153"/><line class="l" x1="643" y1="2297" x2="834" y2="2297"/>
<text class="c" x="738.5" y="2145">TAO_Leader_Follower</text>
<text x="653" y="2168.2">- lock_<tspan x="653" dy="15.3">- leaders_</tspan><tspan x="653" dy="15.3">- clients_</tspan><tspan x="653" dy="15.3">- avoid_client_leader_</tspan><tspan x="653" dy="15.3">- client_thread_is_leader_</tspan><tspan x="653" dy="15.3">- event_loop_threads</tspan><tspan x="653" dy="15.3">_waiting_</tspan><tspan x="653" dy="15.3">- event_loop_threads</tspan><tspan x="653" dy="15.3">_condition_</tspan></text>
<text x="653" y="2312">+ TAO_Leader_Follower()<tspan x="653" dy="14.94">+ ~TAO_Leader_Follower()</tspan><tspan x="653" dy="14.94">+ set_event_loop_thread()</tspan><tspan x="653" dy="14.94">+ reset_event_loop_thread()</tspan><tspan x="653" dy="14.94">+ set_upcall_thread()</tspan><tspan x="653" dy="14.94">+ leader_available()</tspan><tspan x="653" dy="14.94">+ set_client_thread()</tspan><tspan x="653" dy="14.94">+ reset_client_thread()</tspan><tspan x="653" dy="14.94">+ wait_for_event()</tspan><tspan x="653" dy="14.94">+ set_client_leader_thread()</tspan><tspan x="653" dy="14.94">and 17 more...</tspan><tspan x="653" dy="14.94">- get_tss_resources()</tspan><tspan x="653" dy="14.94">- wait_for_client_leader</tspan><tspan x="653" dy="14.94">_to_complete()</tspan><tspan x="653" dy="14.94">- reset_event_loop_thread_i()</tspan><tspan x="653" dy="14.94">- resume_events()</tspan><tspan x="653" dy="14.94">- elect_new_leader_i()</tspan></text>
</g>

<g id="TAO_Connector_Registry">
<rect class="b" x="1380" y="2224" width="200" height="237"/><line class="l" x1="1380" y1="2249" x2="1580" y2="2249"/><line class="l" x1="1380" y1="2275" x2="1580" y2="2275"/>
<text class="c" x="1480" y="2241">TAO_Connector_Registry</text>
<text x="1390" y="2266.5">- size_</text>
<text x="1390" y="2290">+ TAO_Connector_Registry()<tspan x="1390" dy="15">+ ~TAO_Connector_Registry()</tspan><tspan x="1390" dy="15">+ get_connector()</tspan><tspan x="1390" dy="15">+ open()</tspan><tspan x="1390" dy="15">+ close_all()</tspan><tspan x="1390" dy="15">+ make_mprofile()</tspan><tspan x="1390" dy="15">+ create_profile()</tspan><tspan x="1390" dy="15">+ object_key_delimiter()</tspan><tspan x="1390" dy="15">+ begin()</tspan><tspan x="1390" dy="15">+ end()</tspan><tspan x="1390" dy="15">- TAO_Connector_Registry()</tspan><tspan x="1390" dy="15">- operator=()</tspan></text>
</g>

<g id="TAO_Acceptor_Registry">
<rect class="b" x="1604" y="2202" width="192" height="281"/><line class="l" x1="1604" y1="2227" x2="1796" y2="2227"/><line class="l" x1="1604" y1="2253" x2="1796" y2="2253"/>
<text class="c" x="1700" y="2219">TAO_Acceptor_Registry</text>
<text x="1614" y="2244.5">- size_</text>
<text x="1614" y="2268">+ TAO_Acceptor_Registry()<tspan x="1614" dy="14.93">+ ~TAO_Acceptor_Registry()</tspan><tspan x="1614" dy="14.93">+ open()</tspan><tspan x="1614" dy="14.93">+ close_all()</tspan><tspan x="1614" dy="14.93">+ endpoint_count()</tspan><tspan x="1614" dy="14.93">+ is_collocated()</tspan><tspan x="1614" dy="14.93">+ get_acceptor()</tspan><tspan x="1614" dy="14.93">+ begin()</tspan><tspan x="1614" dy="14.93">+ end()</tspan><tspan x="1614" dy="14.93">- open_default()</tspan><tspan x="1614" dy="14.93">- open_default()</tspan><tspan x="1614" dy="14.93">- open_default_i()</tspan><tspan x="1614" dy="14.93">- extract_endpoint_options()</tspan><tspan x="1614" dy="14.93">- extract_endpoint_version()</tspan><tspan x="1614" dy="14.93">- open_i()</tspan></text>
</g>

<g id="TAO_Thread_Lane_Resources">
<rect class="b" x="1273" y="2637" width="229" height="281"/><line class="l" x1="1273" y1="2662" x2="1502" y2="2662"/><line class="l" x1="1273" y1="2701" x2="1502" y2="2701"/>
<text class="c" x="1387.5" y="2654">TAO_Thread_Lane_Resources</text>
<text x="1283" y="2677.7">- transport_cache_<tspan x="1283" dy="16.5">- lock_</tspan></text>
<text x="1283" y="2716">+ TAO_Thread_Lane_Resources()<tspan x="1283" dy="15.07">+ ~TAO_Thread_Lane_Resources()</tspan><tspan x="1283" dy="15.07">+ is_collocated()</tspan><tspan x="1283" dy="15.07">+ open_acceptor_registry()</tspan><tspan x="1283" dy="15.07">+ finalize()</tspan><tspan x="1283" dy="15.07">+ shutdown_reactor()</tspan><tspan x="1283" dy="15.07">+ close_all_transports()</tspan><tspan x="1283" dy="15.07">+ acceptor_registry()</tspan><tspan x="1283" dy="15.07">+ connector_registry()</tspan><tspan x="1283" dy="15.07">+ transport_cache()</tspan><tspan x="1283" dy="15.07">and 10 more...</tspan><tspan x="1283" dy="15.07">- has_acceptor_registry</tspan><tspan x="1283" dy="15.07">_been_created()</tspan><tspan x="1283" dy="15.07">- resource_factory()</tspan></text>
</g>

<g id="TAO_Thread_Pool_Manager">
<rect class="b" x="1885" y="2621" width="215" height="312"/><line class="l" x1="1885" y1="2646" x2="2100" y2="2646"/><line class="l" x1="1885" y1="2687" x2="2100" y2="2687"/>
<text class="c" x="1992.5" y="2638">TAO_Thread_Pool_Manager</text>
<text x="1895" y="2662.2">- thread_pool_id_counter_<tspan x="1895" dy="17.5">- lock_</tspan></text>
<text x="1895" y="2702">+ TAO_Thread_Pool_Manager()<tspan x="1895" dy="15">+ ~TAO_Thread_Pool_Manager()</tspan><tspan x="1895" dy="15">+ finalize()</tspan><tspan x="1895" dy="15">+ shutdown_reactor()</tspan><tspan x="1895" dy="15">+ wait()</tspan><tspan x="1895" dy="15">+ is_collocated()</tspan><tspan x="1895" dy="15">+ create_threadpool()</tspan><tspan x="1895" dy="15">+ create_threadpool_with</tspan><tspan x="1895" dy="15">_lanes()</tspan><tspan x="1895" dy="15">+ destroy_threadpool()</tspan><tspan x="1895" dy="15">+ get_threadpool()</tspan><tspan x="1895" dy="15">* orb_core()</tspan><tspan x="1895" dy="15">* create_threadpool_i()</tspan><tspan x="1895" dy="15">* create_threadpool_with</tspan><tspan x="1895" dy="15">_lanes_i()</tspan><tspan x="1895" dy="15">* create_threadpool_helper()</tspan></text>
</g>

<g id="TAO_RT_Thread_Lane_Resources_Manager">
<rect class="g" x="1298" y="2999" width="179" height="295"/><line class="l" x1="1298" y1="3038" x2="1477" y2="3038"/><line class="l" x1="1298" y1="3064" x2="1477" y2="3064"/>
<text class="c" x="1387.5" y="3015.5">TAO_RT_Thread_Lane<tspan x="1387.5" dy="15">_Resources_Manager</tspan></text>
<text x="1308" y="3079">+ TAO_RT_Thread_Lane<tspan x="1308" dy="14.93">_Resources_Manager()</tspan><tspan x="1308" dy="14.93">+ ~TAO_RT_Thread_Lane</tspan><tspan x="1308" dy="14.93">_Resources_Manager()</tspan><tspan x="1308" dy="14.93">+ finalize()</tspan><tspan x="1308" dy="14.93">+ open_default_resources()</tspan><tspan x="1308" dy="14.93">+ shutdown_reactor()</tspan><tspan x="1308" dy="14.93">+ close_all_transports()</tspan><tspan x="1308" dy="14.93">+ is_collocated()</tspan><tspan x="1308" dy="14.93">- operator=()</tspan><tspan x="1308" dy="14.93">- TAO_RT_Thread_Lane</tspan><tspan x="1308" dy="14.93">_Resources_Manager()</tspan><tspan x="1308" dy="14.93">* lane_resources()</tspan><tspan x="1308" dy="14.93">* default_lane_resources()</tspan><tspan x="1308" dy="14.93">* tp_manager()</tspan></text>
</g>
</svg>
